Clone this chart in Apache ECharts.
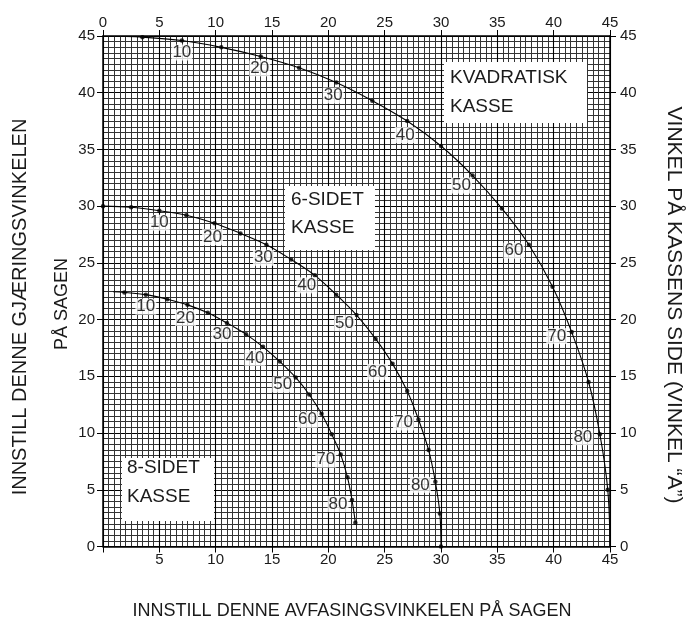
<!DOCTYPE html>
<html>
<head>
<meta charset="utf-8">
<title>Gjæringsvinkel / avfasingsvinkel</title>
<script src="https://cdn.jsdelivr.net/npm/echarts@6.0.0/dist/echarts.min.js"></script>
<style>
  html, body { margin: 0; padding: 0; background: #fff; }
  #chart { width: 686px; height: 624px; }
</style>
</head>
<body>
<div id="chart"></div>
<script>
// vinkel A på kassens side (grader) for hvert merket punkt
const vinkelA = [5, 10, 15, 20, 25, 30, 35, 40, 45, 50, 55, 60, 65, 70, 75, 80, 85]
const vinkelA6 = [0, 5, 10, 15, 20, 25, 30, 35, 40, 45, 50, 55, 60, 65, 70, 75, 80, 85, 90]

// kvadratisk kasse: avfasing (x) og gjæring (y)
const kvadratX = [3.5, 7.0, 10.5, 14.0, 17.4, 20.7, 23.9, 27.0, 30.0, 32.8, 35.4, 37.8, 39.9, 41.6, 43.1, 44.1, 44.8]
const kvadratY = [44.9, 44.6, 44.0, 43.2, 42.2, 40.9, 39.3, 37.5, 35.3, 32.7, 29.8, 26.6, 22.9, 18.9, 14.5, 9.9, 5.0]
const kvadratStart = [2.0, 44.95]
const kvadratSlutt = [45, 0]

// 6-sidet kasse
const seksX = [0, 2.5, 5.0, 7.4, 9.9, 12.2, 14.5, 16.7, 18.8, 20.7, 22.5, 24.2, 25.7, 27.0, 28.0, 28.9, 29.5, 29.9, 30.0]
const seksY = [30.0, 29.9, 29.6, 29.2, 28.5, 27.6, 26.6, 25.3, 23.9, 22.2, 20.4, 18.3, 16.1, 13.7, 11.2, 8.5, 5.7, 2.9, 0]

// 8-sidet kasse
const atteX = [1.9, 3.8, 5.7, 7.5, 9.3, 11.0, 12.7, 14.2, 15.7, 17.1, 18.3, 19.4, 20.3, 21.1, 21.7, 22.1, 22.4]
const atteY = [22.4, 22.2, 21.8, 21.3, 20.6, 19.7, 18.7, 17.6, 16.3, 14.9, 13.4, 11.7, 9.9, 8.1, 6.1, 4.1, 2.1]
const atteStart = [0.9, 22.45]

const aksetikker = [0, 5, 10, 15, 20, 25, 30, 35, 40, 45]

// plassering av tallene 10..80 i forhold til punktet (px)
const forskyvKvadrat = [[0, 12], [-1, 12], [-3, 13], [-2, 14], [-11, 10], [-15, 6], [-15, 4], [-17, 3]]
const forskyvSeks = [[0, 12], [-2, 14], [-3, 13], [-8, 10], [-12, 8], [-15, 8], [-15, 3], [-15, 3]]
const forskyvAtte = [[0, 12], [-2, 13], [-5, 11], [-8, 11], [-13, 7], [-14, 6], [-15, 5], [-14, 4]]

const FONT = '"Liberation Sans", Arial, sans-serif'
const TEKST = '#1a1a1a'

const par = (xs, ys) => xs.map((x, i) => [x, ys[i]])

const punktData = (xs, ys, vinkler, forskyv) => {
  let k = 0
  return vinkler.map((a, i) => {
    const item = { value: [xs[i], ys[i]] }
    if (a % 10 === 0 && a > 0 && a < 90) {
      item.label = { show: true, formatter: String(a), offset: forskyv[k++] }
    }
    return item
  })
}

const linje = data => ({
  type: 'line',
  data,
  smooth: 0.35,
  showSymbol: false,
  symbol: 'none',
  lineStyle: { color: '#000', width: 1.1 },
  z: 3,
  silent: true
})

const punkter = data => ({
  type: 'scatter',
  data,
  symbolSize: 4.5,
  itemStyle: { color: '#000' },
  label: {
    show: false,
    position: 'inside',
    color: '#000',
    textBorderWidth: 0,
    fontFamily: FONT,
    fontSize: 17,
    backgroundColor: '#fff',
    padding: [0, 1],
    lineHeight: 16
  },
  z: 4,
  silent: true
})

const xAkse = (pos, visNull, medLinjer) => ({
  type: 'value',
  position: pos,
  min: 0,
  max: 45,
  interval: 5,
  axisLine: { show: true, onZero: false, lineStyle: { color: '#000', width: 1.5 } },
  axisTick: { show: true, inside: false, length: 6, lineStyle: { color: '#000', width: 1 } },
  axisLabel: {
    color: TEKST,
    fontFamily: FONT,
    fontSize: 15,
    margin: 6,
    showMinLabel: true,
    showMaxLabel: true,
    formatter: v => (!visNull && v === 0 ? '' : (aksetikker.includes(v) ? String(v) : ''))
  },
  splitLine: { show: medLinjer, lineStyle: { color: '#000', width: 1.1 } },
  minorTick: { show: false, splitNumber: 10 },
  minorSplitLine: { show: medLinjer, lineStyle: { color: '#333', width: 1 } }
})

const yAkse = (pos, medLinjer, margin) => ({
  type: 'value',
  position: pos,
  min: 0,
  max: 45,
  interval: 5,
  axisLine: { show: true, onZero: false, lineStyle: { color: '#000', width: 1.5 } },
  axisTick: { show: true, inside: false, length: 6, lineStyle: { color: '#000', width: 1 } },
  axisLabel: {
    color: TEKST,
    fontFamily: FONT,
    fontSize: 15,
    margin,
    showMinLabel: true,
    showMaxLabel: true,
    formatter: v => (aksetikker.includes(v) ? String(v) : '')
  },
  splitLine: { show: medLinjer, lineStyle: { color: '#000', width: 1.1 } },
  minorTick: { show: false, splitNumber: 10 },
  minorSplitLine: { show: medLinjer, lineStyle: { color: '#333', width: 1 } }
})

const boks = (x, y, w, h, linjer, tx, ty) => [
  { type: 'rect', shape: { x, y, width: w, height: h }, style: { fill: '#fff' }, z: 10 },
  ...linjer.map((t, i) => ({
    type: 'text', x: tx, y: ty[i], z: 11,
    style: { text: t, fill: TEKST, font: '19px ' + FONT, textAlign: 'left', textVerticalAlign: 'middle' }
  }))
]

const tittel = (tekst, x, y, rot, size) => ({
  type: 'text', x, y, rotation: rot, z: 11,
  style: { text: tekst, fill: TEKST, font: size + 'px ' + FONT, textAlign: 'center', textVerticalAlign: 'middle' }
})

const chart = echarts.init(document.getElementById('chart'))

chart.setOption({
  animation: false,
  backgroundColor: '#fff',
  grid: { left: 103, right: 76, top: 36, bottom: 77.5 },
  xAxis: [xAkse('bottom', false, true), xAkse('top', true, false)],
  yAxis: [yAkse('left', true, 8), yAkse('right', false, 10)],
  series: [
    linje([kvadratStart, ...par(kvadratX, kvadratY), kvadratSlutt]),
    linje(par(seksX, seksY)),
    linje([atteStart, ...par(atteX, atteY)]),
    punkter(punktData(kvadratX, kvadratY, vinkelA, forskyvKvadrat)),
    punkter(punktData(seksX, seksY, vinkelA6, forskyvSeks)),
    punkter(punktData(atteX, atteY, vinkelA, forskyvAtte))
  ],
  graphic: [
    ...boks(444, 62, 143, 61, ['KVADRATISK', 'KASSE'], 450, [78, 107]),
    ...boks(285, 186, 90, 64, ['6-SIDET', 'KASSE'], 291, [200, 228]),
    ...boks(122, 458, 92, 63, ['8-SIDET', 'KASSE'], 127, [468, 497]),
    tittel('INNSTILL DENNE AVFASINGSVINKELEN PÅ SAGEN', 352, 611, 0, 18),
    tittel('INNSTILL DENNE GJÆRINGSVINKELEN', 20, 307, Math.PI / 2, 20),
    tittel('PÅ SAGEN', 62, 304, Math.PI / 2, 18),
    tittel('VINKEL PÅ KASSENS SIDE (VINKEL “A”)', 674, 305, -Math.PI / 2, 21)
  ]
})
</script>
</body>
</html>
